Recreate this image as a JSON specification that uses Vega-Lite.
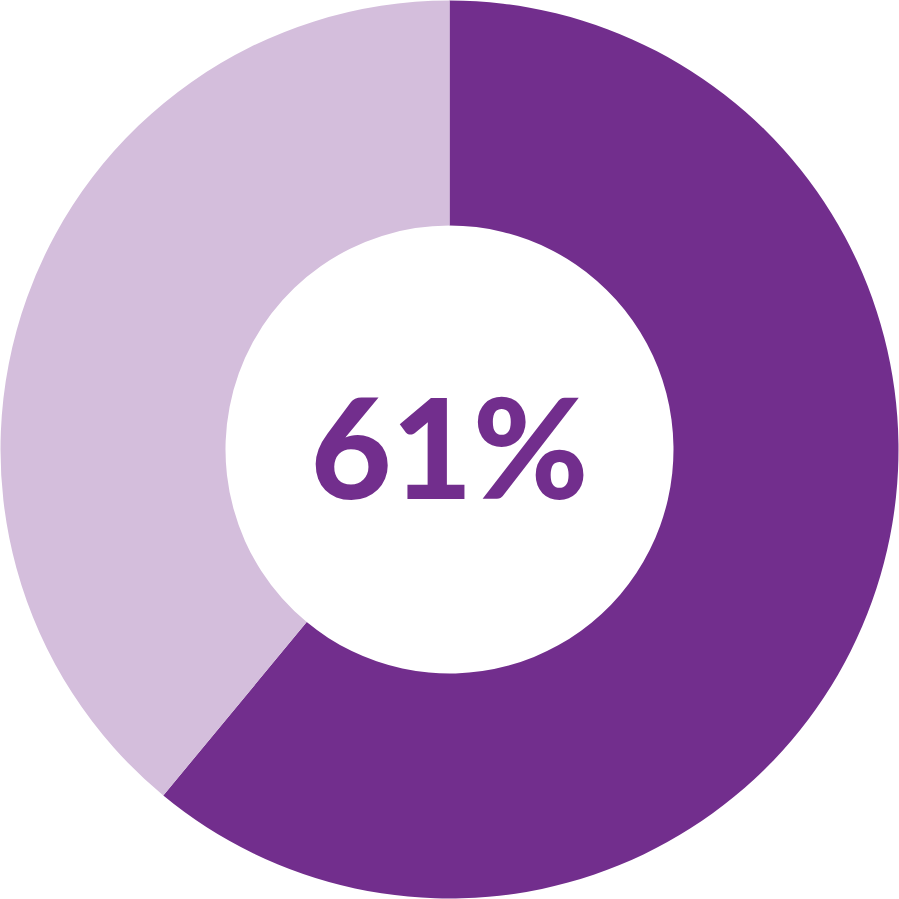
{
  "$schema": "https://vega.github.io/schema/vega-lite/v6.json",
  "autosize": {"type": "fit", "contains": "padding"},
  "width": 899,
  "height": 899,
  "padding": 0,
  "background": "white",
  "view": {"stroke": null},
  "data": {
    "values": [
      {"segment": "Yes", "share": 61, "rank": 1},
      {"segment": "No", "share": 39, "rank": 2}
    ]
  },
  "layer": [
    {
      "mark": {"type": "arc", "innerRadius": 224, "outerRadius": 449},
      "encoding": {
        "theta": {"field": "share", "type": "quantitative", "stack": true},
        "order": {"field": "rank", "type": "ordinal"},
        "color": {
          "field": "segment",
          "type": "nominal",
          "scale": {"domain": ["Yes", "No"], "range": ["#722e8d", "#d4bedc"]},
          "legend": null
        }
      }
    },
    {
      "data": {"values": [{"label": "61%"}]},
      "mark": {
        "type": "text",
        "font": "Lato",
        "fontWeight": 900,
        "fontSize": 140,
        "color": "#722e8d",
        "align": "center",
        "baseline": "middle",
        "dy": 7
      },
      "encoding": {"text": {"field": "label", "type": "nominal"}}
    }
  ]
}
